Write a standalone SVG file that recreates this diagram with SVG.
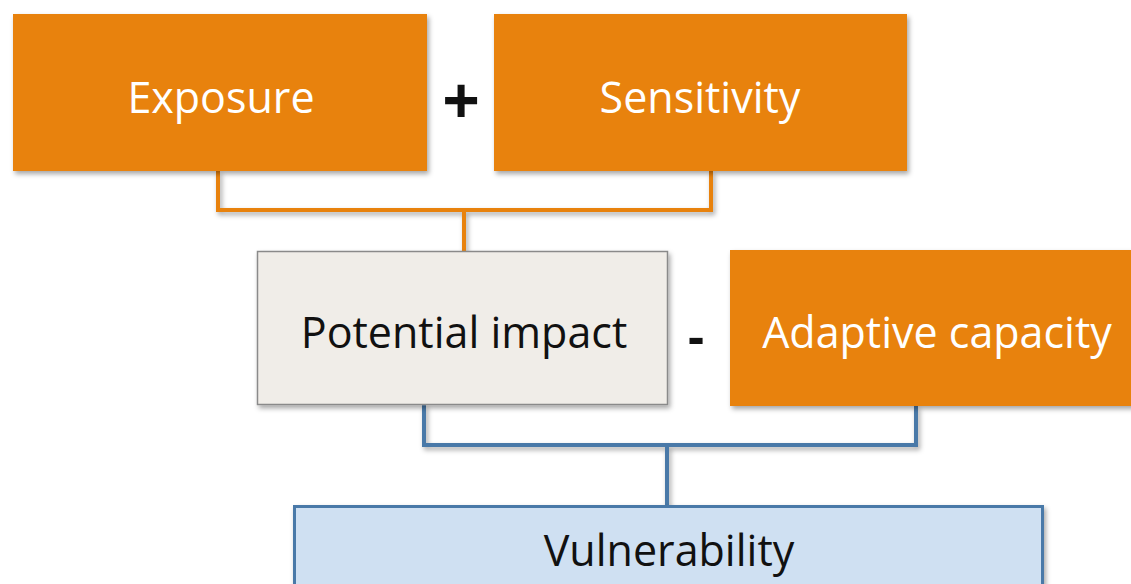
<svg xmlns="http://www.w3.org/2000/svg" width="1131" height="584" viewBox="0 0 1131 584">
<style>
.t{font-family:"Open Sans","Noto Sans",sans-serif;font-size:43px;text-anchor:middle}
.w{fill:#ffffff}
.k{fill:#111111}
.org{fill:#e8820a}
.oc{fill:none;stroke:#e8820a;stroke-width:4}
.bc{fill:none;stroke:#4a79a8;stroke-width:4}
</style>
<defs>
<filter id="sh" x="-5%" y="-5%" width="112%" height="120%">
<feDropShadow dx="2" dy="3" stdDeviation="2.5" flood-color="#000" flood-opacity="0.35"/>
</filter>
</defs>
<rect width="1131" height="584" fill="#ffffff"/>
<g id="connectors">
<path class="oc" d="M218 171 V210 H711 V171 M464 210 V251" filter="url(#sh)"/>
<path class="bc" d="M424 405 V445 H916 V406 M667 445 V506" filter="url(#sh)"/>
</g>
<g id="exposure">
<rect class="org" x="13" y="14" width="414" height="157" filter="url(#sh)"/>
<text class="t w" x="221" y="113">Exposure</text>
</g>
<g id="sensitivity">
<rect class="org" x="494" y="14" width="413" height="157" filter="url(#sh)"/>
<text class="t w" x="700" y="113">Sensitivity</text>
</g>
<g id="plus"><text class="t k" x="461" y="124" style="font-size:66px;font-weight:bold">+</text></g>
<g id="potential-impact">
<rect x="257.5" y="251.5" width="410" height="153" fill="#f0ede8" stroke="#8a8a8a" stroke-width="1.5" filter="url(#sh)"/>
<text class="t k" x="464" y="348">Potential impact</text>
</g>
<g id="minus"><text class="t k" x="696" y="354" style="font-size:50px;font-weight:bold">-</text></g>
<g id="adaptive-capacity">
<rect class="org" x="730" y="250" width="405" height="156" filter="url(#sh)"/>
<text class="t w" x="937" y="348">Adaptive capacity</text>
</g>
<g id="vulnerability">
<rect x="294.5" y="506.5" width="748" height="90" fill="#cfe0f2" stroke="#4a79a8" stroke-width="3" filter="url(#sh)"/>
<text class="t k" x="669" y="566">Vulnerability</text>
</g>
</svg>
